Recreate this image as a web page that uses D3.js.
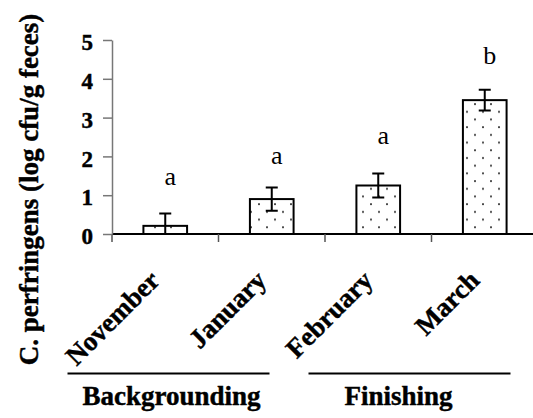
<!DOCTYPE html>
<meta charset="utf-8">
<style>

body {
  margin: 0;
  background: #fff;
}

svg {
  display: block;
}

.bar {
  fill: url(#dots);
  stroke: #000;
  stroke-width: 2px;
}

.err {
  fill: none;
  stroke: #000;
  stroke-width: 2px;
}

.y-axis path,
.y-axis line {
  stroke: #777;
  stroke-width: 1.5px;
}

.x-axis path {
  stroke: #000;
  stroke-width: 2px;
}

.x-axis line {
  stroke: #555;
  stroke-width: 1.5px;
}

.group line {
  stroke: #000;
  stroke-width: 2px;
}

</style>
<svg width="533" height="418"></svg>
<script src="https://cdn.jsdelivr.net/npm/d3@7"></script>
<script>

// data
var months = ["November", "January", "February", "March"],
    means = [0.21, 0.90, 1.25, 3.45],   // log cfu/g
    sems = [0.32, 0.30, 0.31, 0.27],
    letters = ["a", "a", "a", "b"],
    letterLevels = [1.26, 1.80, 2.32, 4.38]; // height the letter sits at

var yTicks = [0, 1, 2, 3, 4, 5];

var groupNames = ["Backgrounding", "Finishing"],
    groupMonths = [["November", "January"], ["February", "March"]];

var serif = "'Liberation Serif', 'Times New Roman', serif";

var svg = d3.select("svg"),
    width = +svg.attr("width"),
    height = +svg.attr("height");

var x = d3.scaleBand()
    .domain(months)
    .range([112, 538])
    .padding(0);

var y = d3.scaleLinear()
    .domain([0, 5])
    .range([234, 40]);

var barWidth = x.bandwidth() * 0.41;

// heavy bold serif, close to the old Times Bold look
function boldText(sel, size) {
  sel.style("font-family", serif)
      .style("font-weight", "bold")
      .style("font-size", size + "px")
      .style("fill", "#000")
      .style("stroke", "#000")
      .style("stroke-width", "0.45px");
}

// sparse dot fill
var pat = svg.append("defs").append("pattern")
    .attr("id", "dots")
    .attr("patternUnits", "userSpaceOnUse")
    .attr("width", 16)
    .attr("height", 15.4);
pat.append("rect").attr("width", 16).attr("height", 15.4).attr("fill", "#fff");
pat.append("circle").attr("cx", 3).attr("cy", 4).attr("r", 1).attr("fill", "#333");
pat.append("circle").attr("cx", 11).attr("cy", 11.7).attr("r", 1).attr("fill", "#333");

// axes
svg.append("g")
    .attr("class", "x-axis")
    .attr("transform", "translate(0," + y(0) + ")")
    .call(d3.axisBottom(x).tickSize(0).tickFormat(""))
    .call(function(g) {
      g.selectAll(".tick").remove();
      g.select(".domain").attr("d", "M" + x.range()[0] + ",0H" + x.range()[1]);
      g.selectAll(".sep")
          .data(months.slice(1).concat([null]))
        .enter().append("line")
          .attr("x1", function(d) { return d ? x(d) : x.range()[1]; })
          .attr("x2", function(d) { return d ? x(d) : x.range()[1]; })
          .attr("y1", 0)
          .attr("y2", 8);
      g.append("line")
          .attr("x1", x.range()[0]).attr("x2", x.range()[0])
          .attr("y1", 0).attr("y2", 8);
    });

svg.append("g")
    .attr("class", "y-axis")
    .attr("transform", "translate(" + x.range()[0] + ",0)")
    .call(d3.axisLeft(y).tickValues(yTicks).tickFormat(d3.format("d"))
        .tickSize(9).tickPadding(10).tickSizeOuter(0))
    .call(function(g) {
      g.attr("font-family", null).attr("font-size", null);
      g.selectAll("text").attr("dy", "0.42em").call(boldText, 23);
    });

// bars
var bar = svg.selectAll(".bar-g")
    .data(months)
  .enter().append("g")
    .attr("class", "bar-g");

bar.append("rect")
    .attr("class", "bar")
    .attr("x", function(d) { return x(d) + (x.bandwidth() - barWidth) / 2; })
    .attr("width", barWidth)
    .attr("y", function(d, i) { return y(means[i]); })
    .attr("height", function(d, i) { return y(0) - y(means[i]); });

// error bars (clipped at zero)
bar.append("path")
    .attr("class", "err")
    .attr("d", function(d, i) {
      var cx = x(d) + x.bandwidth() / 2,
          hi = y(means[i] + sems[i]),
          loVal = means[i] - sems[i],
          lo = y(Math.max(0, loVal)),
          c = 6,
          p = "M" + (cx - c) + "," + hi + "H" + (cx + c) + "M" + cx + "," + hi + "V" + lo;
      if (loVal > 0) p += "M" + (cx - c) + "," + lo + "H" + (cx + c);
      return p;
    });

// significance letters
bar.append("text")
    .attr("x", function(d) { return x(d) + x.bandwidth() / 2 + 5; })
    .attr("y", function(d, i) { return y(letterLevels[i]); })
    .attr("text-anchor", "middle")
    .style("font-family", serif)
    .style("font-size", "26px")
    .text(function(d, i) { return letters[i]; });

// rotated month labels
svg.selectAll(".cat")
    .data(months)
  .enter().append("text")
    .attr("class", "cat")
    .attr("text-anchor", "end")
    .attr("transform", function(d) {
      return "translate(" + (x(d) + x.bandwidth() / 2 - 4) + ",282) rotate(-45)";
    })
    .call(boldText, 27)
    .text(function(d) { return d; });

// y title
svg.append("text")
    .attr("text-anchor", "middle")
    .attr("transform", "translate(38," + 189.5 + ") rotate(-90)")
    .call(boldText, 27)
    .text("C. perfringens (log cfu/g feces)");

// period groups under the axis
var lineShift = [-50, -22],
    labelShift = [-47, -33];

var group = svg.selectAll(".group")
    .data(groupNames)
  .enter().append("g")
    .attr("class", "group");

group.each(function(d, i) {
  var g = d3.select(this),
      a = x(groupMonths[i][0]),
      b = x(groupMonths[i][1]) + x.bandwidth(),
      mid = (a + b) / 2;
  g.append("line")
      .attr("x1", mid + lineShift[i] - 101)
      .attr("x2", mid + lineShift[i] + 101)
      .attr("y1", 373.5)
      .attr("y2", 373.5);
  g.append("text")
      .attr("x", mid + labelShift[i])
      .attr("y", 405)
      .attr("text-anchor", "middle")
      .call(boldText, 27)
      .text(d);
});

</script>
